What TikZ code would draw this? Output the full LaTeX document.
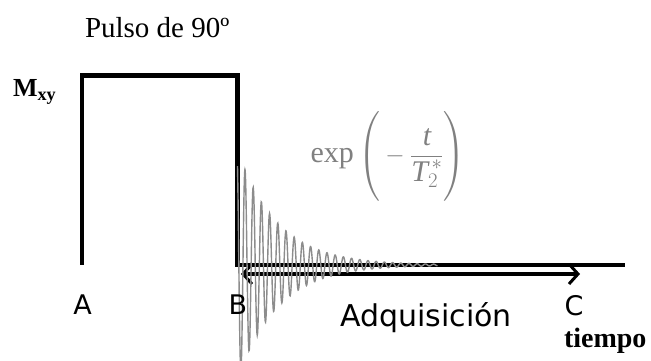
\documentclass[tikz,border=0pt]{standalone}
\usepackage{amsmath}
\usepackage{fontspec}
\setmainfont{Liberation Serif}
\newfontfamily\labelfont{DejaVu Sans}
\usetikzlibrary{arrows.meta,positioning}

\begin{document}
\begin{tikzpicture}[x=1pt, y=1pt, every node/.style={inner sep=0pt, outer sep=0pt},
  sig/.style={line width=4.5pt, line join=miter},
  fid/.style={line width=1.4pt, black!45},
  pt/.style={font=\labelfont\fontsize{27}{27}\selectfont}]
\useasboundingbox (0,0) rectangle (651,361);
% pulse corners
\coordinate (p0) at (82,96); \coordinate (p1) at (82,285.5);
\coordinate (p2) at (237.5,285.5); \coordinate (p3) at (237.5,96);
\coordinate (tend) at (625,96);
\draw[sig] (p0)--(p1)--(p2)--(p3)--(tend);
\coordinate (acqs) at (241,87); \coordinate (acqe) at (580,87);
\draw[line width=3.5pt, {Straight Barb[length=9pt,width=20pt,line width=3pt]}-{Straight Barb[length=9pt,width=20pt,line width=3pt]}] (acqs)--(acqe);
% FID
\begin{scope}
\clip (0,0) rectangle (651,361);
\draw[fid] plot[domain=0:200, samples=700, smooth] ({237.5+\x}, {96+115*exp(-\x/40)*cos((\x-7.5)/8.2*360)});
\end{scope}
\node[anchor=base west, font=\fontsize{29}{29}\selectfont] (pulso) at (85,323) {Pulso de 90º};
\node[anchor=base west, font=\bfseries\fontsize{26}{26}\selectfont] (mxy) at (13,264) {M\textsubscript{xy}};
\node[pt] (a) at (82.5,56) {A};
\node[pt] (b) at (238,56) {B};
\node[pt] (c) at (574,55) {C};
\node[anchor=base, font=\labelfont\fontsize{30}{30}\selectfont] (acq) at (426,34) {Adquisición};
\node[anchor=base west, font=\bfseries\fontsize{28}{28}\selectfont] (tiempo) at (564,13) {tiempo};
\node[text=black!50, font=\fontsize{30}{30}\selectfont] (decay) at (388,204.5)
  {$\text{exp}\left(\vphantom{\rule[-1.2em]{0pt}{2.75em}}-\dfrac{\textit{t}}{\textit{T}_2^{\,*}}\right)$};
\end{tikzpicture}
\end{document}
